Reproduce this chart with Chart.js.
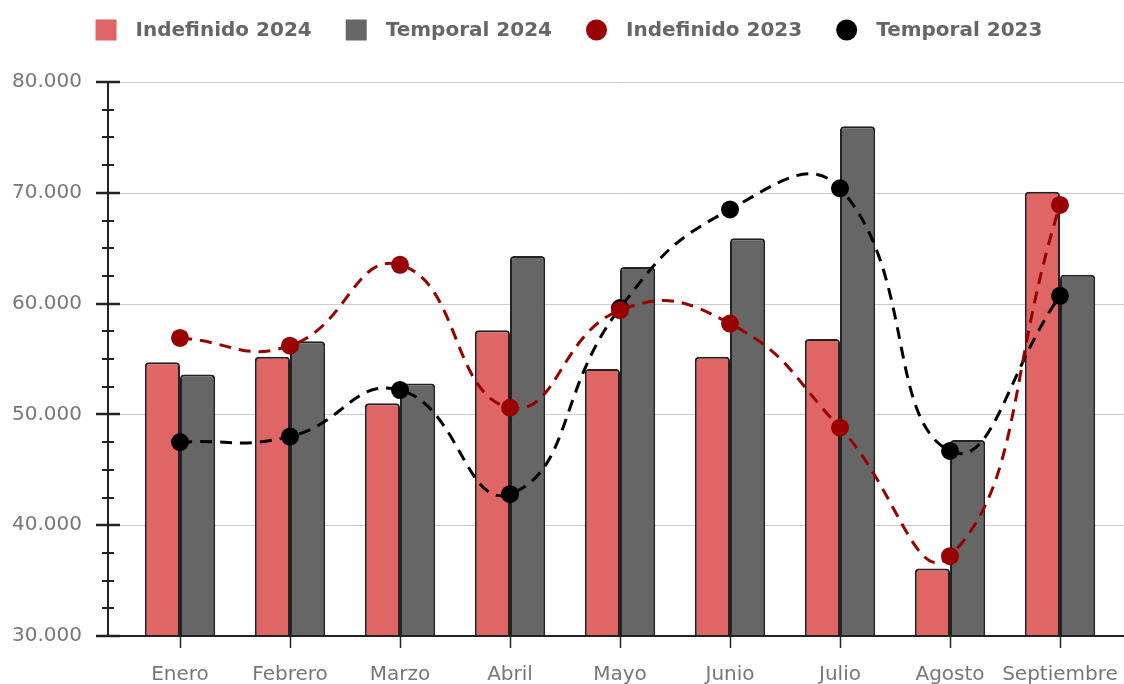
<!DOCTYPE html>
<html>
<head>
<meta charset="utf-8">
<script src="https://cdn.jsdelivr.net/npm/chart.js@4/dist/chart.umd.min.js"></script>
<style>
  html, body { margin: 0; padding: 0; background: #fff; }
  #wrap { width: 1124px; height: 684px; position: relative; }
</style>
</head>
<body>
<div id="wrap"><canvas id="chart"></canvas></div>
<script>
(function () {
  var CATS = ['Enero', 'Febrero', 'Marzo', 'Abril', 'Mayo', 'Junio', 'Julio', 'Agosto', 'Septiembre'];
  var IND_2024 = [54700, 55200, 51000, 57600, 54100, 55200, 56800, 36100, 70100];
  var TEMP_2024 = [53600, 56600, 52800, 64300, 63300, 65900, 76000, 47700, 62600];
  var IND_2023 = [56900, 56200, 63500, 50600, 59400, 58200, 48800, 37200, 68900];
  var TEMP_2023 = [47500, 48000, 52200, 42800, 59600, 68500, 70400, 46700, 60700];
  var Y_MIN = 30000, Y_MAX = 80000, Y_STEP = 10000, Y_MINOR = 2500;

  var C = {
    ind24: '#e06666',
    temp24: '#666666',
    ind23: '#990000',
    temp23: '#000000',
    text: '#777777',
    legendText: '#666666',
    axis: '#222222',
    grid: '#cccccc',
  };
  var FONT = '"DejaVu Sans", Verdana, sans-serif';

  function fmt(v) {
    return String(v).replace(/\B(?=(\d{3})+(?!\d))/g, '.');
  }

  // Legend drawn by hand: square for bars, circle for lines
  var legendPlugin = {
    id: 'customLegend',
    afterDraw: function (chart) {
      var ctx = chart.ctx;
      var items = chart.data.datasets.map(function (d) {
        return { text: d.label, color: d.legendColor, round: d.type === 'line' };
      });
      ctx.save();
      ctx.font = 'bold 20px ' + FONT;
      var box = 21, gap = 19, spacing = 34;
      var total = 0;
      items.forEach(function (it, i) {
        it.w = ctx.measureText(it.text).width;
        total += box + gap + it.w + (i < items.length - 1 ? spacing : 0);
      });
      var x = 569 - total / 2;
      var cy = 30;
      ctx.textBaseline = 'middle';
      ctx.textAlign = 'left';
      items.forEach(function (it) {
        ctx.fillStyle = it.color;
        if (it.round) {
          ctx.beginPath();
          ctx.arc(x + box / 2, cy, box / 2, 0, Math.PI * 2);
          ctx.fill();
        } else {
          ctx.fillRect(x, cy - box / 2, box, box);
        }
        ctx.fillStyle = C.legendText;
        ctx.fillText(it.text, x + box + gap, cy + 1);
        x += box + gap + it.w + spacing;
      });
      ctx.restore();
    },
  };

  // Axis lines, major/minor tick marks and gridlines
  var axesPlugin = {
    id: 'axesDraw',
    beforeDatasetsDraw: function (chart) {
      var ctx = chart.ctx, y = chart.scales.y;
      ctx.save();
      ctx.strokeStyle = C.grid;
      ctx.lineWidth = 1;
      for (var v = Y_MIN + Y_STEP; v <= Y_MAX; v += Y_STEP) {
        var py = Math.round(y.getPixelForValue(v)) + 0.5;
        ctx.beginPath();
        ctx.moveTo(119, py);
        ctx.lineTo(chart.width, py);
        ctx.stroke();
      }
      ctx.restore();
    },
    afterDatasetsDraw: function (chart) {
      var ctx = chart.ctx, y = chart.scales.y, x = chart.scales.x;
      var area = chart.chartArea;
      var axisX = 108;
      ctx.save();
      ctx.strokeStyle = C.axis;
      ctx.lineWidth = 2;
      ctx.beginPath();
      ctx.moveTo(axisX, y.getPixelForValue(Y_MAX));
      ctx.lineTo(axisX, area.bottom);
      ctx.stroke();
      for (var v = Y_MIN; v <= Y_MAX; v += Y_MINOR) {
        var py = Math.round(y.getPixelForValue(v));
        var major = v % Y_STEP === 0;
        ctx.lineWidth = major ? 2.5 : 2;
        ctx.beginPath();
        ctx.moveTo(major ? 96 : 102, py);
        ctx.lineTo(major ? 120 : 114, py);
        ctx.stroke();
      }
      ctx.lineWidth = 2;
      ctx.beginPath();
      ctx.moveTo(96, area.bottom);
      ctx.lineTo(chart.width, area.bottom);
      ctx.stroke();
      ctx.lineWidth = 1.5;
      CATS.forEach(function (c, i) {
        var px = Math.round(x.getPixelForValue(i)) + 0.5;
        ctx.beginPath();
        ctx.moveTo(px, area.bottom);
        ctx.lineTo(px, area.bottom + 12);
        ctx.stroke();
      });
      ctx.restore();
    },
  };

  function barSet(label, data, color) {
    return {
      type: 'bar',
      label: label,
      data: data,
      legendColor: color,
      backgroundColor: color,
      borderColor: '#222222',
      borderWidth: 2,
      borderRadius: 4,
      categoryPercentage: 0.64,
      barPercentage: 1.0,
      order: 2,
    };
  }

  function lineSet(label, data, color) {
    return {
      type: 'line',
      label: label,
      data: data,
      legendColor: color,
      borderColor: color,
      backgroundColor: color,
      borderWidth: 3,
      borderDash: [12, 8],
      tension: 0.48,
      fill: false,
      pointRadius: 9,
      pointHoverRadius: 9,
      pointBackgroundColor: color,
      pointBorderWidth: 0,
      order: 1,
    };
  }

  new Chart(document.getElementById('chart').getContext('2d'), {
    type: 'bar',
    plugins: [axesPlugin, legendPlugin],
    data: {
      labels: CATS,
      datasets: [
        barSet('Indefinido 2024', IND_2024, C.ind24),
        barSet('Temporal 2024', TEMP_2024, C.temp24),
        lineSet('Indefinido 2023', IND_2023, C.ind23),
        lineSet('Temporal 2023', TEMP_2023, C.temp23),
      ],
    },
    options: {
      responsive: true,
      maintainAspectRatio: false,
      animation: false,
      layout: { padding: { top: 82, right: 9, left: 0, bottom: 0 } },
      plugins: {
        legend: { display: false },
        tooltip: { enabled: false },
      },
      scales: {
        x: {
          offset: true,
          grid: { display: false, drawTicks: false },
          border: { display: false },
          ticks: {
            color: C.text,
            font: { family: FONT, size: 20 },
            padding: 27,
            maxRotation: 0,
            autoSkip: false,
          },
          afterFit: function (s) { s.height = 48; s.paddingLeft = 0; s.paddingRight = 0; },
        },
        y: {
          min: Y_MIN,
          max: Y_MAX,
          grid: { display: false, drawTicks: false },
          border: { display: false },
          ticks: {
            stepSize: Y_STEP,
            color: C.text,
            font: { family: FONT, size: 20 },
            padding: 43,
            callback: function (v) { return fmt(v); },
          },
          afterFit: function (s) { s.width = 125; s.paddingTop = 0; s.paddingBottom = 0; },
        },
      },
    },
  });
})();
</script>
</body>
</html>
